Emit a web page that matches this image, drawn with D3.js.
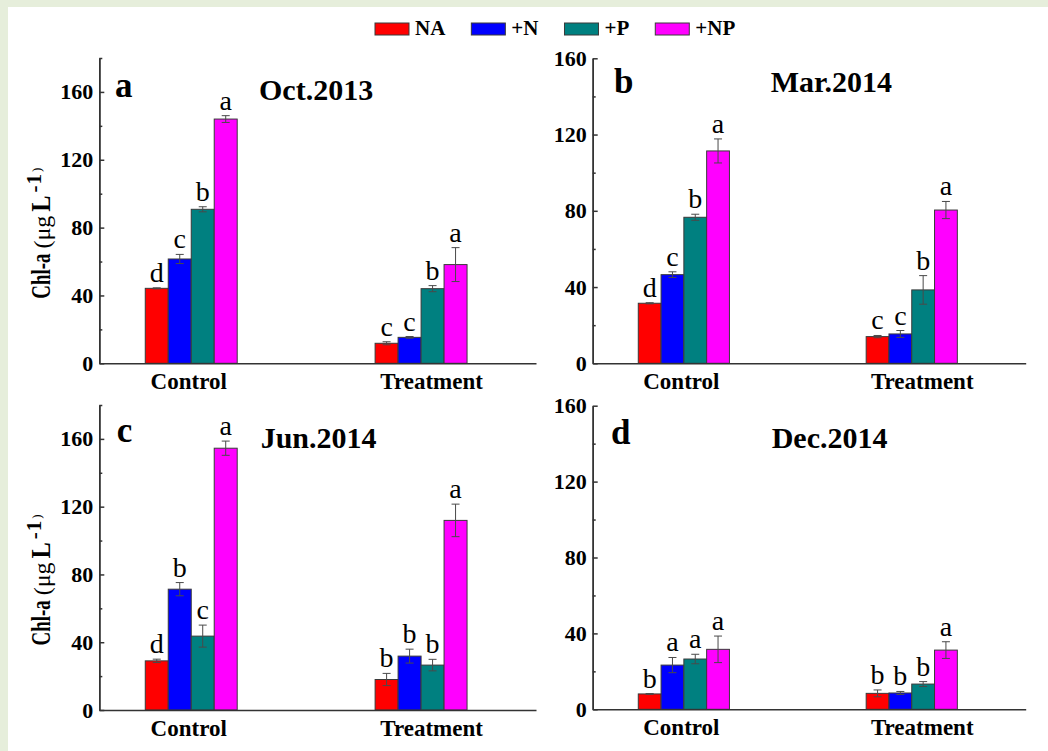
<!DOCTYPE html>
<html>
<head>
<meta charset="utf-8">
<script src="https://cdn.jsdelivr.net/npm/d3@7"></script>
<style>
  html, body { margin: 0; padding: 0; background: #ffffff; }
  svg { display: block; }
  text { font-family: "Liberation Serif", "Times New Roman", Times, serif; fill: #000; }
</style>
</head>
<body>
<svg id="chart" width="1048" height="751"></svg>
<script>
// Chlorophyll-a under nutrient additions, four sampling campaigns
const categories = ["Control", "Treatment"];
const series = ["NA", "+N", "+P", "+NP"];
const seriesColors = ["#ff0000", "#0000ff", "#008080", "#ff00ff"];

const panelTags = ["a", "b", "c", "d"];
const panelTitles = ["Oct.2013", "Mar.2014", "Jun.2014", "Dec.2014"];
const yTickLabels = ["0", "40", "80", "120", "160"];

// means per category (rows) and series (columns)
const oct2013Means = [[44.2, 61.5, 90.8, 144.0], [11.8, 15.3, 44.0, 58.2]];
const oct2013Errors = [[0.3, 2.7, 1.5, 2.0], [0.9, 0.5, 1.8, 10.0]];
const oct2013Letters = [["d", "c", "b", "a"], ["c", "c", "b", "a"]];

const mar2014Means = [[31.5, 46.5, 76.6, 111.4], [14.0, 15.4, 38.5, 80.4]];
const mar2014Errors = [[0.3, 1.5, 1.6, 6.3], [0.6, 1.8, 7.5, 4.5]];
const mar2014Letters = [["d", "c", "b", "a"], ["c", "c", "b", "a"]];

const jun2014Means = [[29.0, 71.3, 43.6, 154.5], [18.0, 31.8, 26.5, 111.9]];
const jun2014Errors = [[1.0, 3.9, 6.5, 4.2], [3.6, 4.1, 3.4, 9.6]];
const jun2014Letters = [["d", "b", "c", "a"], ["b", "b", "b", "a"]];

const dec2014Means = [[8.1, 23.3, 26.5, 31.6], [8.4, 8.6, 13.3, 31.2]];
const dec2014Errors = [[0.2, 4.0, 2.5, 7.0], [1.8, 0.8, 1.3, 4.4]];
const dec2014Letters = [["b", "a", "a", "a"], ["b", "b", "b", "a"]];

const yMaxes = [180, 160, 180, 160];

// panel frames on the page
const frames = [
  { x0: 99.3, x1: 536, y0: 363.3, yTop: 58,   tagX: 115,   tagY: 96.7,  titleX: 259,   titleY: 100,   ylabel: true },
  { x0: 592.7, x1: 1025.7, y0: 363.3, yTop: 58.3, tagX: 614, tagY: 93.3,  titleX: 770.7, titleY: 91.7,  ylabel: false },
  { x0: 99.3, x1: 536, y0: 710, yTop: 405,  tagX: 116.7, tagY: 441.7, titleX: 260.7, titleY: 448.3, ylabel: true },
  { x0: 592.7, x1: 1025.7, y0: 709.3, yTop: 405.7, tagX: 611, tagY: 444, titleX: 771.7, titleY: 448.3, ylabel: false }
];

const panels = [
  { means: oct2013Means, errors: oct2013Errors, letters: oct2013Letters },
  { means: mar2014Means, errors: mar2014Errors, letters: mar2014Letters },
  { means: jun2014Means, errors: jun2014Errors, letters: jun2014Letters },
  { means: dec2014Means, errors: dec2014Errors, letters: dec2014Letters }
];

const svg = d3.select("#chart");

// page background with light green margin strips
svg.append("rect").attr("width", 1048).attr("height", 751).attr("fill", "#ffffff");
svg.append("rect").attr("x", 0).attr("y", 0).attr("width", 1048).attr("height", 7).attr("fill", "#e6eedb");
svg.append("rect").attr("x", 0).attr("y", 0).attr("width", 8).attr("height", 751).attr("fill", "#e6eedb");

const axisColor = "#333333";
const barWidthUnits = 0.1;
const labelShift = [-3, 10];

// rotated y-axis title built from pieces laid end to end along the axis
function yTitle(parent, baseX, startY) {
  const g = parent.append("g").attr("transform", `translate(${baseX},${startY}) rotate(-90)`);
  let pos = 0;
  const piece = (txt, size, bold, sx, dy, gapAfter, spacing) => {
    const t = g.append("text")
      .attr("transform", `translate(${pos},${dy}) scale(${sx},1)`)
      .style("font-size", size + "px")
      .style("font-weight", bold ? "bold" : "normal")
      .style("letter-spacing", (spacing || 0) + "px")
      .text(txt);
    pos += t.node().getComputedTextLength() * sx + gapAfter;
  };
  piece("Chl-a", 27, true, 0.7, 0, 5);
  piece("(μg", 24, false, 1, 0, 4);
  piece("L", 27, true, 0.9, 0, 3);
  piece("-1", 21, true, 1, -9, 1, 1);
  piece(")", 13, false, 1, -9, 0);
}

panels.forEach((p, pi) => {
  const f = frames[pi];
  const g = svg.append("g");

  const x = d3.scaleLinear().domain([0.6, 2.5]).range([f.x0, f.x1]);
  const y = d3.scaleLinear().domain([0, yMaxes[pi]]).range([f.y0, f.yTop]);
  const bw = x(barWidthUnits) - x(0);

  // bars, error bars and significance letters
  categories.forEach((cat, ci) => {
    const center = ci + 1;
    series.forEach((s, si) => {
      const left = x(center - 2 * barWidthUnits + si * barWidthUnits);
      const v = p.means[ci][si];
      const e = p.errors[ci][si];
      const cx = left + bw / 2;
      g.append("rect")
        .attr("x", left).attr("y", y(v))
        .attr("width", bw).attr("height", y(0) - y(v))
        .attr("fill", seriesColors[si])
        .attr("stroke", "#3a3a3a").attr("stroke-width", 1);
      const eg = g.append("g").attr("stroke", "#4a4a4a").attr("stroke-width", 1);
      eg.append("line").attr("x1", cx).attr("x2", cx).attr("y1", y(v - e)).attr("y2", y(v + e));
      eg.append("line").attr("x1", cx - 4).attr("x2", cx + 4).attr("y1", y(v + e)).attr("y2", y(v + e));
      eg.append("line").attr("x1", cx - 4).attr("x2", cx + 4).attr("y1", y(v - e)).attr("y2", y(v - e));
      g.append("text")
        .attr("x", cx).attr("y", y(v + e) - 6)
        .attr("text-anchor", "middle")
        .style("font-size", "28px")
        .text(p.letters[ci][si]);
    });
  });

  // y axis: major ticks every 40, minor every 20, ticks pointing inward
  const majors = yTickLabels.map(Number);
  const minors = d3.range(20, yMaxes[pi] + 1, 40);
  const yMinor = g.append("g").attr("transform", `translate(${f.x0},0)`)
    .call(d3.axisLeft(y).tickValues(minors).tickSize(-3).tickSizeOuter(0).tickFormat(""));
  const yMajor = g.append("g").attr("transform", `translate(${f.x0},0)`)
    .call(d3.axisLeft(y).tickValues(majors).tickSize(-5).tickSizeOuter(0).tickPadding(6)
      .tickFormat((d, i) => yTickLabels[i]));
  [yMinor, yMajor].forEach(ax => {
    ax.selectAll("path, line").attr("stroke", axisColor).attr("stroke-width", 1.5);
  });
  yMajor.selectAll("text")
    .style("font-family", '"Liberation Serif", "Times New Roman", serif')
    .style("font-size", "22px").style("font-weight", "bold").attr("fill", "#000");

  // x axis baseline with category labels
  const xAxis = g.append("g").attr("transform", `translate(0,${f.y0})`)
    .call(d3.axisBottom(x).tickValues([1, 2]).tickSize(0).tickSizeOuter(0).tickPadding(0)
      .tickFormat((d, i) => categories[i]));
  xAxis.select(".domain").attr("stroke", axisColor).attr("stroke-width", 1.5);
  xAxis.selectAll("text")
    .attr("dy", null).attr("y", 25.5)
    .attr("dx", (d, i) => labelShift[i])
    .style("font-family", '"Liberation Serif", "Times New Roman", serif')
    .style("font-size", "23px").style("font-weight", "bold").attr("fill", "#000");

  // panel tag and sampling date
  g.append("text").attr("x", f.tagX).attr("y", f.tagY)
    .style("font-size", "35px").style("font-weight", "bold").text(panelTags[pi]);
  g.append("text").attr("x", f.titleX).attr("y", f.titleY)
    .style("font-size", "30px").style("font-weight", "bold").text(panelTitles[pi]);

  // y-axis title on left-hand panels
  if (f.ylabel) {
    yTitle(g, 50, (f.y0 + f.yTop) / 2 + 88);
  }
});

// legend across the top
const legend = svg.append("g");
let lx = 375;
series.forEach((s, si) => {
  legend.append("rect").attr("x", lx).attr("y", 23).attr("width", 34).attr("height", 12)
    .attr("fill", seriesColors[si]).attr("stroke", "#3a3a3a").attr("stroke-width", 1);
  const t = legend.append("text").attr("x", lx + 40).attr("y", 35)
    .style("font-size", "21px").style("font-weight", "bold").text(s);
  lx += 40 + t.node().getComputedTextLength() + 26;
});
</script>
</body>
</html>
